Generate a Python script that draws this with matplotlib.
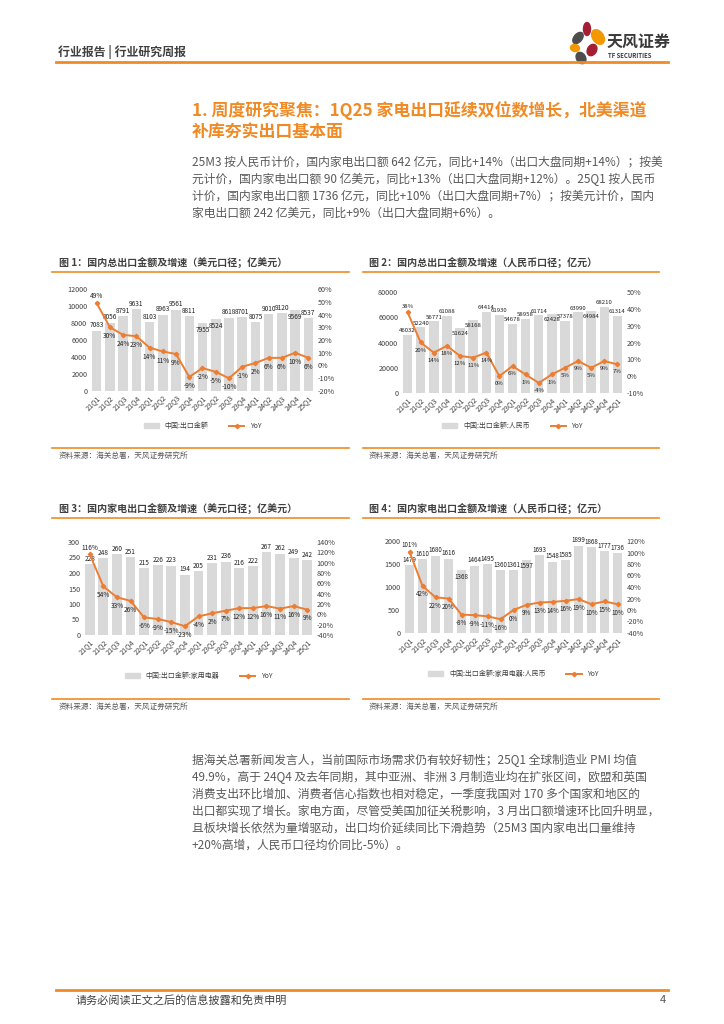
import matplotlib
matplotlib.use("Agg")
import matplotlib.pyplot as plt
from matplotlib.patches import Ellipse
from matplotlib.lines import Line2D
from matplotlib.patches import Patch

plt.rcParams['font.family'] = ['Noto Sans CJK SC', 'DejaVu Sans']

W, H = 724, 1024

quarters = ['21Q1', '21Q2', '21Q3', '21Q4', '22Q1', '22Q2', '22Q3', '22Q4',
            '23Q1', '23Q2', '23Q3', '23Q4', '24Q1', '24Q2', '24Q3', '24Q4', '25Q1']

# 图1 国内总出口金额（亿美元）
total_usd = [7083, 8056, 8791, 9631, 8103, 8963, 9561, 8811,
             7955, 8524, 8618, 8701, 8075, 9010, 9120, 9569, 8537]
total_usd_yoy = [49, 30, 24, 23, 14, 11, 9, -9, -2, -5, -10, -1, 2, 6, 6, 10, 6]

# 图2 国内总出口金额（亿元）
total_rmb = [46032, 52240, 56771, 61088, 51624, 58168, 64414, 61930,
             54678, 58958, 61714, 62428, 57378, 63990, 64984, 68210, 61314]
total_rmb_yoy = [38, 20, 14, 18, 12, 11, 14, 0, 6, 1, -4, 1, 5, 9, 5, 9, 7]

# 图3 国内家电出口金额（亿美元）
appl_usd = [228, 248, 260, 251, 215, 226, 223, 194,
            205, 231, 236, 216, 222, 267, 262, 249, 242]
appl_usd_yoy = [116, 54, 33, 26, -6, -9, -15, -23, -4, 2, 7, 12, 12, 16, 11, 16, 9]

# 图4 国内家电出口金额（亿元）
appl_rmb = [1479, 1610, 1680, 1616, 1368, 1464, 1495, 1360,
            1361, 1597, 1693, 1548, 1585, 1899, 1868, 1777, 1736]
appl_rmb_yoy = [101, 42, 22, 20, -8, -9, -11, -16, 0, 9, 13, 14, 16, 19, 10, 15, 10]

ORANGE = '#F08A24'
LINE_OR = '#ED7D31'
BAR_GREY = '#D9D9D9'
TXT = '#404040'
GREY_TXT = '#595959'

fig = plt.figure(figsize=(W / 100, H / 100), dpi=100)


def px_axes(x0, y0, x1, y1):
    return fig.add_axes([x0 / W, 1 - y1 / H, (x1 - x0) / W, (y1 - y0) / H])


def ftext(x, y, s, **kw):
    kw.setdefault('va', 'center')
    fig.text(x / W, 1 - y / H, s, **kw)


def hline(x0, x1, y, lw=1.5, color=ORANGE):
    fig.add_artist(Line2D([x0 / W, x1 / W], [1 - y / H, 1 - y / H], color=color, lw=lw))


# ---- header ----
ftext(58, 52, '行业报告 | 行业研究周报', fontsize=8.6, color=TXT, fontweight='bold')
hline(56, 668, 62, lw=2)
logo = fig.add_axes([560 / W, 1 - 66 / H, 50 / W, 46 / H])
logo.set_xlim(560, 610)
logo.set_ylim(66, 20)
logo.axis('off')
for (cx, cy, w, h, ang, col) in [
        (578, 38, 8, 13, 40, '#4D4D4D'),
        (587, 29, 7, 13, 0, '#A31F34'),
        (598, 37, 11, 16, -35, '#F39800'),
        (575, 48, 9, 7, 10, '#F39800'),
        (592, 50, 9, 12, 30, '#A31F34'),
        (581, 58, 9, 12, -30, '#4D4D4D')]:
    logo.add_patch(Ellipse((cx, cy), w, h, angle=ang, color=col))
ftext(607, 42, '天风证券', fontsize=11.5, color='#3A3A3A', fontweight='bold')
ftext(608, 55, 'TF SECURITIES', fontsize=4.3, color='#3A3A3A', fontweight='bold')

# ---- section title ----
ftext(192, 110, '1. 周度研究聚焦：1Q25 家电出口延续双位数增长，北美渠道',
      fontsize=12.2, color=ORANGE, fontweight='bold')
ftext(192, 133, '补库夯实出口基本面', fontsize=12.2, color=ORANGE, fontweight='bold')

para1 = [
    '25M3 按人民币计价，国内家电出口额 642 亿元，同比+14%（出口大盘同期+14%）；按美',
    '元计价，国内家电出口额 90 亿美元，同比+13%（出口大盘同期+12%）。25Q1 按人民币',
    '计价，国内家电出口额 1736 亿元，同比+10%（出口大盘同期+7%）；按美元计价，国内',
    '家电出口额 242 亿美元，同比+9%（出口大盘同期+6%）。',
]
for i, line in enumerate(para1):
    ftext(192, 162 + i * 17, line, fontsize=8.5, color=GREY_TXT)

para2 = [
    '据海关总署新闻发言人，当前国际市场需求仍有较好韧性；25Q1 全球制造业 PMI 均值',
    '49.9%，高于 24Q4 及去年同期，其中亚洲、非洲 3 月制造业均在扩张区间，欧盟和英国',
    '消费支出环比增加、消费者信心指数也相对稳定，一季度我国对 170 多个国家和地区的',
    '出口都实现了增长。家电方面，尽管受美国加征关税影响，3 月出口额增速环比回升明显，',
    '且板块增长依然为量增驱动，出口均价延续同比下滑趋势（25M3 国内家电出口量维持',
    '+20%高增，人民币口径均价同比-5%）。',
]
for i, line in enumerate(para2):
    ftext(192, 760 + i * 17, line, fontsize=8.5, color=GREY_TXT)

# ---- footer ----
hline(56, 668, 990, lw=2)
ftext(76, 1000, '请务必阅读正文之后的信息披露和免责申明', fontsize=8, color=TXT)
ftext(660, 1000, '4', fontsize=8, color=GREY_TXT)


def draw_chart(box, bars, yoy, lmax, lstep, rmin, rmax, rstep, bar_label, title,
               tx, line_x, ty, legend_y, bottom_y, inside=(), lab_fs=4.7):
    x0, y0, x1, y1 = box
    ftext(tx, ty, title, fontsize=7.2, color=TXT, fontweight='bold')
    hline(line_x[0], line_x[1], ty + 10, lw=1.2)
    hline(line_x[0], line_x[1], bottom_y, lw=1.2)
    ftext(tx, bottom_y + 8, '资料来源：海关总署，天风证券研究所', fontsize=5.5, color=GREY_TXT)

    ax = px_axes(x0, y0, x1, y1)
    xs = list(range(len(quarters)))
    ax.bar(xs, bars, width=0.72, color=BAR_GREY, zorder=1)
    ax.set_ylim(0, lmax)
    ax.set_yticks(range(0, lmax + 1, lstep))
    ax.set_xlim(-0.5, len(quarters) - 0.5)
    ax.set_xticks(xs)
    ax.set_xticklabels(quarters, rotation=45, ha='right', rotation_mode='anchor')
    for sp in ax.spines.values():
        sp.set_visible(False)
    ax.tick_params(length=0, labelsize=5.2, colors=TXT, pad=2)
    for i, (x, v) in enumerate(zip(xs, bars)):
        if i in inside:
            ax.text(x, v - lmax * 0.03, str(v), ha='center', va='top', fontsize=lab_fs, color='#222222')
        else:
            ax.text(x, v + lmax * 0.015, str(v), ha='center', va='bottom', fontsize=lab_fs, color='#222222')

    ax2 = ax.twinx()
    ax2.plot(xs, yoy, color=LINE_OR, lw=1.4, marker='D', ms=2.2, zorder=3)
    ax2.set_ylim(rmin, rmax)
    ax2.set_yticks(range(rmin, rmax + 1, rstep))
    ax2.set_yticklabels([f'{t}%' for t in range(rmin, rmax + 1, rstep)])
    for sp in ax2.spines.values():
        sp.set_visible(False)
    ax2.tick_params(length=0, labelsize=5.2, colors=TXT, pad=2)
    for i, (x, v) in enumerate(zip(xs, yoy)):
        if i == 0:
            ax2.text(x, v + (rmax - rmin) * 0.03, f'{v}%', ha='center', va='bottom',
                     fontsize=lab_fs, color='#222222')
        else:
            ax2.text(x, v - (rmax - rmin) * 0.05, f'{v}%', ha='center', va='top',
                     fontsize=lab_fs, color='#222222')

    handles = [Patch(color=BAR_GREY), Line2D([], [], color=LINE_OR, lw=1.4, marker='D', ms=2.2)]
    cx = (x0 + x1) / 2
    fig.legend(handles, [bar_label, 'YoY'], loc='center', ncol=2, frameon=False,
               bbox_to_anchor=(cx / W, 1 - legend_y / H), fontsize=5, handlelength=2.2,
               columnspacing=3, labelcolor=TXT)


draw_chart((90, 289, 315, 391), total_usd, total_usd_yoy, 12000, 2000, -20, 60, 10,
           '中国:出口金额', '图 1：国内总出口金额及增速（美元口径；亿美元）',
           59, (52, 349), 262, 426, 448, inside=(8, 9, 15))
draw_chart((401, 292, 624, 393), total_rmb, total_rmb_yoy, 80000, 20000, -10, 50, 10,
           '中国:出口金额:人民币', '图 2：国内总出口金额及增速（人民币口径；亿元）',
           369, (363, 659), 262, 426, 448, inside=(4, 5, 11, 14), lab_fs=4.3)
draw_chart((83, 542, 314, 635), appl_usd, appl_usd_yoy, 300, 50, -40, 140, 20,
           '中国:出口金额:家用电器', '图 3：国内家电出口金额及增速（美元口径；亿美元）',
           59, (52, 349), 508, 676, 699)
draw_chart((403, 541, 624, 633), appl_rmb, appl_rmb_yoy, 2000, 500, -40, 120, 20,
           '中国:出口金额:家用电器:人民币', '图 4：国内家电出口金额及增速（人民币口径；亿元）',
           369, (363, 659), 508, 674, 699, inside=(4, 9), lab_fs=4.5)

fig.savefig('out.png', dpi=100)
